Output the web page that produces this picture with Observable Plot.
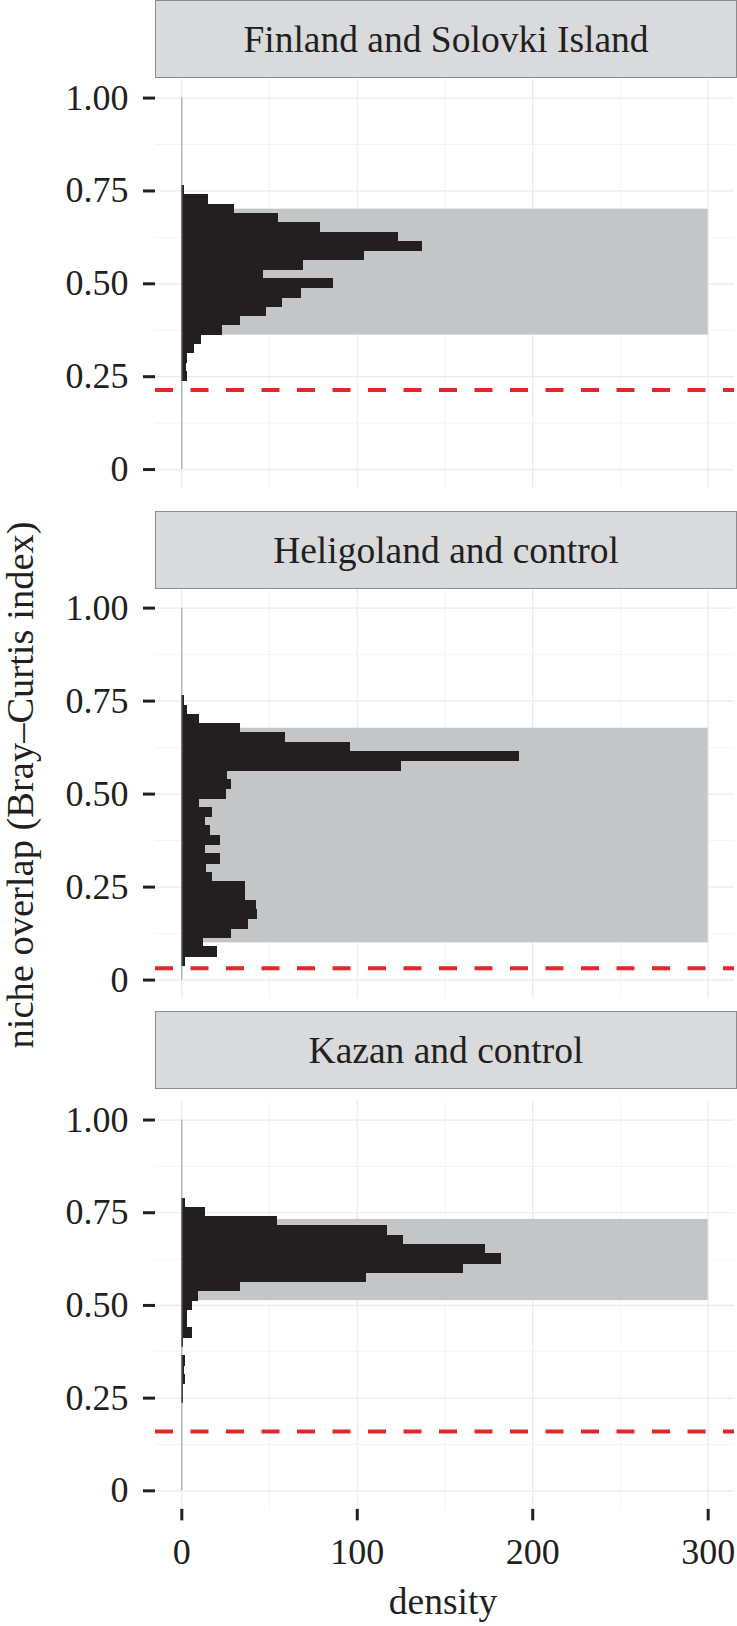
<!DOCTYPE html>
<html><head><meta charset="utf-8">
<script src="https://cdn.jsdelivr.net/npm/d3@7"></script>
<script src="https://cdn.jsdelivr.net/npm/@observablehq/plot@0.6"></script>
<style>
body{margin:0;background:#fff;}
#root{position:relative;width:737px;height:1626px;overflow:hidden;font-family:"Liberation Serif","Times New Roman",serif;color:#231f20;}
.strip{position:absolute;left:155px;width:582px;height:78px;background:#d9dadb;border:1px solid #8c8c8c;box-sizing:border-box;display:flex;align-items:center;justify-content:center;font-size:37.5px;white-space:nowrap;}
.panel{position:absolute;left:0;}
.title{position:absolute;font-size:37.5px;line-height:1;white-space:nowrap;}
</style></head><body><div id="root"></div>
<script>
// ---- data ----
const panelNames = ["Finland and Solovki Island", "Heligoland and control", "Kazan and control"];
const yTickValues = [0, 0.25, 0.5, 0.75, 1];
const yTickLabels = ["0", "0.25", "0.50", "0.75", "1.00"];
const xTickValues = [0, 100, 200, 300];
const xTickLabels = ["0", "100", "200", "300"];
const binWidth = 0.025;

// histogram bin lower edges (niche overlap) and densities
const finlandBinLow = [0.238, 0.263, 0.288, 0.313, 0.338, 0.363, 0.388, 0.413, 0.438, 0.463, 0.488, 0.513, 0.538, 0.563, 0.588, 0.613, 0.638, 0.663, 0.688, 0.713, 0.738];
const finlandDensity = [3, 2.5, 3, 6.8, 11, 23, 33, 48, 57, 68, 86, 46, 69, 104, 137, 123, 79, 55, 30, 15, 1];

const heligolandBinLow = [0.038, 0.063, 0.088, 0.113, 0.138, 0.163, 0.188, 0.213, 0.238, 0.263, 0.288, 0.313, 0.338, 0.363, 0.388, 0.413, 0.438, 0.463, 0.488, 0.513, 0.538, 0.563, 0.588, 0.613, 0.638, 0.663, 0.688, 0.713, 0.738];
const heligolandDensity = [2, 20, 12, 28, 38, 43, 42, 36, 36, 17, 14, 22, 13, 22, 16, 13, 17, 10, 25, 28, 26, 125, 192, 96, 59, 33, 10, 3, 1];

const kazanBinLow = [0.238, 0.263, 0.288, 0.313, 0.338, 0.363, 0.388, 0.413, 0.438, 0.463, 0.488, 0.513, 0.538, 0.563, 0.588, 0.613, 0.638, 0.663, 0.688, 0.713, 0.738, 0.763];
const kazanDensity = [0.8, 0.8, 1.9, 1.1, 1.9, 0, 0.8, 6, 3, 3, 6, 9, 33, 105, 160, 182, 173, 126, 117, 54, 13, 1.7];

// grey interval band (low, high) and red dashed observed value per panel
const bandLow = [0.362, 0.100, 0.513];
const bandHigh = [0.701, 0.677, 0.732];
const bandDensityMax = 300;
const observedOverlap = [0.214, 0.032, 0.160];

const binLows = [finlandBinLow, heligolandBinLow, kazanBinLow];
const densities = [finlandDensity, heligolandDensity, kazanDensity];

// ---- layout ----
const root = document.getElementById("root");
const stripTops = [0, 511, 1011];
const yOnePx = [98, 607.5, 1119.6];
const yZeroPx = [469.5, 979.5, 1490.4];
const W = 737, mL = 155, mR = 3;
const ink = "#231f20";

for (let p = 0; p < 3; p++) {
  const strip = document.createElement("div");
  strip.className = "strip";
  strip.style.top = stripTops[p] + "px";
  strip.textContent = panelNames[p];
  root.appendChild(strip);

  const k = yZeroPx[p] - yOnePx[p];
  const top = yOnePx[p] - 0.05 * k;
  const h = 1.1 * k;
  const last = p === 2;
  const mB = last ? 120 : 0;

  const bins = binLows[p].map((lo, i) => ({lo, hi: lo + binWidth, d: densities[p][i]}));

  const marks = [
    Plot.ruleX([50, 150, 250], {stroke: "#f4f4f4", strokeWidth: 1}),
    Plot.ruleY([0.125, 0.375, 0.625, 0.875], {stroke: "#f4f4f4", strokeWidth: 1}),
    Plot.ruleX(xTickValues, {stroke: "#ebebeb", strokeWidth: 1.2}),
    Plot.ruleY(yTickValues, {stroke: "#ebebeb", strokeWidth: 1.2}),
    Plot.rect([{y1: bandLow[p], y2: bandHigh[p]}], {x1: 0, x2: bandDensityMax, y1: "y1", y2: "y2", fill: "#c4c5c7"}),
    Plot.rectX(bins, {x1: 0, x2: "d", y1: "lo", y2: "hi", fill: ink, stroke: ink, strokeWidth: 1, shapeRendering: "crispEdges"}),
    Plot.ruleX([0], {y1: 0, y2: 1, stroke: "#9a9a9a", strokeWidth: 1}),
    Plot.ruleY([observedOverlap[p]], {stroke: "#e3262a", strokeWidth: 4, strokeDasharray: "18,17.5"}),
    Plot.axisY({ticks: yTickValues, tickFormat: d => yTickLabels[yTickValues.indexOf(d)], tickSize: 12, tickPadding: 15, strokeWidth: 3, label: null, fontSize: 36})
  ];
  if (last) {
    marks.push(Plot.axisX({ticks: xTickValues, tickFormat: d => xTickLabels[xTickValues.indexOf(d)], tickSize: 11.5, tickPadding: 18, strokeWidth: 3, label: null, fontSize: 36}));
  }

  const chart = Plot.plot({
    width: W,
    height: h + mB,
    marginLeft: mL,
    marginRight: mR,
    marginTop: 0,
    marginBottom: mB,
    x: {domain: [-15, 315], axis: null},
    y: {domain: [-0.05, 1.05], axis: null},
    style: {fontFamily: "'Liberation Serif', 'Times New Roman', serif", fontSize: "36px", color: ink, background: "transparent", overflow: "visible"},
    marks
  });
  chart.classList.add("panel");
  chart.style.top = top + "px";
  root.appendChild(chart);
}

// axis titles
const xt = document.createElement("div");
xt.className = "title";
xt.textContent = "density";
xt.style.left = "443px";
xt.style.top = "1583px";
xt.style.transform = "translateX(-50%)";
root.appendChild(xt);

const yt = document.createElement("div");
yt.className = "title";
yt.textContent = "niche overlap (Bray–Curtis index)";
yt.style.fontSize = "38.5px";
yt.style.left = "20px";
yt.style.top = "785px";
yt.style.transform = "translate(-50%,-50%) rotate(-90deg)";
root.appendChild(yt);
</script>
</body></html>
